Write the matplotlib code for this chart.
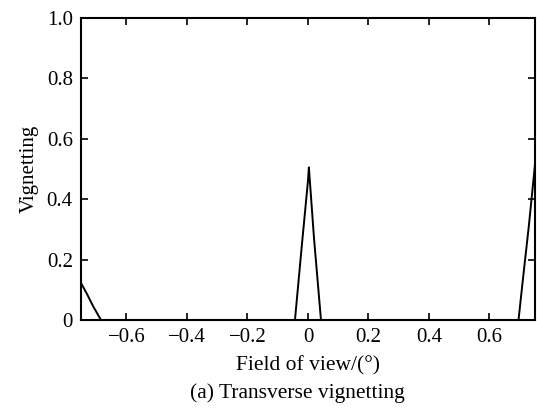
import matplotlib.pyplot as plt

# -----------------------------
# Data
# -----------------------------
fov = [-0.75, -0.73, -0.71, -0.69, -0.684, -0.043, -0.02, 0.0, 0.003, 0.02, 0.043,
       0.696, 0.71, 0.73, 0.75]
vignetting = [0.122, 0.085, 0.045, 0.01, 0.0, 0.0, 0.25, 0.46, 0.505, 0.27, 0.0,
              0.0, 0.13, 0.31, 0.51]

x_ticks = [-0.6, -0.4, -0.2, 0, 0.2, 0.4, 0.6]
x_labels = ["\u22120.6", "\u22120.4", "\u22120.2", "0", "0.2", "0.4", "0.6"]
y_ticks = [0, 0.2, 0.4, 0.6, 0.8, 1.0]
y_labels = ["0", "0.2", "0.4", "0.6", "0.8", "1.0"]

plt.rcParams["font.family"] = ["Liberation Serif", "DejaVu Serif"]

fig = plt.figure(figsize=(5.37, 4.15), dpi=100)
ax = fig.add_axes([0.151, 0.229, 0.845, 0.728])

ax.plot(fov, vignetting, color="black", linewidth=1.4)

ax.set_xlim(-0.75, 0.75)
ax.set_ylim(0, 1.0)
ax.set_xticks(x_ticks)
ax.set_xticklabels(x_labels)
ax.set_yticks(y_ticks)
ax.set_yticklabels(y_labels)
ax.tick_params(direction="in", top=True, right=True, length=5, width=1.2,
               labelsize=15, pad=6)
for s in ax.spines.values():
    s.set_linewidth(1.5)

ax.set_xlabel("Field of view/(\u00b0)", fontsize=15.5, labelpad=6)
ax.set_ylabel("Vignetting", fontsize=15, labelpad=6)
fig.text(0.553, 0.04, "(a) Transverse vignetting", ha="center", fontsize=15.5)

fig.savefig("out.png", dpi=100)
plt.close(fig)
